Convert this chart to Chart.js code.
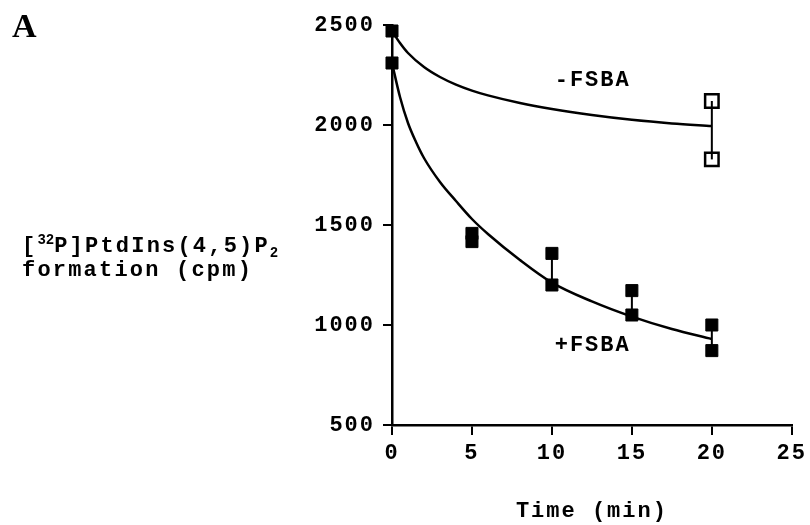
<!DOCTYPE html>
<html>
<head>
<meta charset="UTF-8" />
<title>PtdIns(4,5)P2 formation</title>
<script src="https://cdn.jsdelivr.net/npm/chart.js@4.4.1/dist/chart.umd.min.js"></script>
<style>
  body { margin: 0; background: #fff; }
  #wrap { position: relative; width: 810px; height: 525px; }
  #c { position: absolute; left: 0; top: 0; }
  .panel { position: absolute; left: 12px; top: 7px; font: bold 34px "Liberation Serif", serif; color: #000; }
  .ytitle { position: absolute; left: 22px; top: 235px; font: bold 22px "Liberation Mono", monospace;
            letter-spacing: 2.2px; line-height: 24px; color: #000; white-space: nowrap; }
  .ytitle sup, .ytitle sub { font-size: 14px; line-height: 0; letter-spacing: 0; }
</style>
</head>
<body>
<div id="wrap">
  <canvas id="c" width="810" height="525"></canvas>
  <div class="panel">A</div>
  <div class="ytitle">[<sup>32</sup>P]PtdIns(4,5)P<sub>2</sub><br>formation (cpm)</div>
</div>
<script>
// measured points (+FSBA: filled, -FSBA: open), cpm
const plusT   = [0, 0, 5, 5, 10, 10, 15, 15, 20, 20];
const plusY   = [2470, 2310, 1458, 1417, 1358, 1200, 1172, 1050, 1000, 872];
const minusT  = [20, 20];
const minusY  = [2120, 1828];

// fitted curves
const minusCurveT = [0, 0.5, 1, 2, 3, 4, 5, 6, 8, 10, 12.5, 15, 17.5, 20];
const minusCurveY = [2470, 2410, 2360, 2290, 2240, 2202, 2172, 2148, 2110, 2080, 2050, 2026, 2008, 1995];
const plusCurveT  = [0, 0.5, 1, 1.5, 2, 3, 4, 5, 6, 8, 10, 12.5, 15, 17.5, 20];
const plusCurveY  = [2310, 2140, 2010, 1915, 1835, 1715, 1620, 1530, 1455, 1325, 1212, 1118, 1042, 980, 930];

// error bars (time, low, high)
const barT    = [5, 10, 15, 20, 20];
const barLow  = [1417, 1200, 1050, 872, 1828];
const barHigh = [1458, 1358, 1172, 1000, 2120];

const xTicks = [0, 5, 10, 15, 20, 25];
const yTicks = [500, 1000, 1500, 2000, 2500];

const curveLabels = ['-FSBA', '+FSBA'];
const labelT = [12.55, 12.55];
const labelY = [2225, 900];

const pts = (xs, ys) => xs.map((x, i) => ({ x: x, y: ys[i] }));
const tickFont = { family: 'Liberation Mono', size: 22, weight: 'bold' };

const datasets = [];
// curves
datasets.push({ data: pts(minusCurveT, minusCurveY), showLine: true, borderColor: '#000', borderWidth: 2.5,
  pointRadius: 0, cubicInterpolationMode: 'monotone' });
datasets.push({ data: pts(plusCurveT, plusCurveY), showLine: true, borderColor: '#000', borderWidth: 2.5,
  pointRadius: 0, cubicInterpolationMode: 'monotone' });
// error bars
barT.forEach((t, i) => {
  datasets.push({ data: [{ x: t, y: barLow[i] }, { x: t, y: barHigh[i] }], showLine: true,
    borderColor: '#000', borderWidth: 2, pointRadius: 0 });
});
// markers
datasets.push({ data: pts(plusT, plusY), pointStyle: 'rect', pointRadius: 8.5, backgroundColor: '#000',
  borderColor: '#000', borderWidth: 1 });
datasets.push({ data: pts(minusT, minusY), pointStyle: 'rect', pointRadius: 9.5, backgroundColor: '#fff',
  borderColor: '#000', borderWidth: 2.5 });

// wider letter spacing like the typewriter font of the original
const spacing = {
  id: 'spacing',
  beforeDraw(chart) { chart.ctx.letterSpacing = '2px'; }
};

// text labels beside the curves
const curveText = {
  id: 'curveText',
  afterDatasetsDraw(chart) {
    const { ctx, scales: { x, y } } = chart;
    ctx.save();
    ctx.font = 'bold 22px "Liberation Mono"';
    ctx.letterSpacing = '2px';
    ctx.fillStyle = '#000';
    ctx.textAlign = 'center';
    ctx.textBaseline = 'middle';
    curveLabels.forEach((s, i) => ctx.fillText(s, x.getPixelForValue(labelT[i]), y.getPixelForValue(labelY[i])));
    ctx.restore();
  }
};

new Chart(document.getElementById('c'), {
  type: 'scatter',
  data: { datasets: datasets },
  plugins: [spacing, curveText],
  options: {
    responsive: false,
    animation: false,
    devicePixelRatio: 1,
    layout: { padding: { top: 25, right: 18, left: 0, bottom: 0 } },
    plugins: { legend: { display: false }, tooltip: { enabled: false } },
    datasets: { scatter: { clip: false } },
    scales: {
      x: {
        type: 'linear', min: 0, max: 25,
        afterBuildTicks: s => { s.ticks = xTicks.map(v => ({ value: v })); },
        afterFit: s => { s.height = 100; },
        ticks: { color: '#000', font: tickFont, padding: 5, maxRotation: 0, callback: v => String(v) },
        grid: { drawOnChartArea: false, drawTicks: true, tickLength: 10, color: '#000', lineWidth: 2 },
        border: { color: '#000', width: 2.5 },
        title: { display: true, text: 'Time (min)', color: '#000', font: tickFont, padding: { top: 0, bottom: 0 } }
      },
      y: {
        type: 'linear', min: 500, max: 2500,
        afterBuildTicks: s => { s.ticks = yTicks.map(v => ({ value: v })); },
        afterFit: s => { s.width = 392; },
        ticks: { color: '#000', font: tickFont, padding: 8, callback: v => String(v) },
        grid: { drawOnChartArea: false, drawTicks: true, tickLength: 9, color: '#000', lineWidth: 2 },
        border: { color: '#000', width: 2.5 }
      }
    }
  }
});
</script>
</body>
</html>
